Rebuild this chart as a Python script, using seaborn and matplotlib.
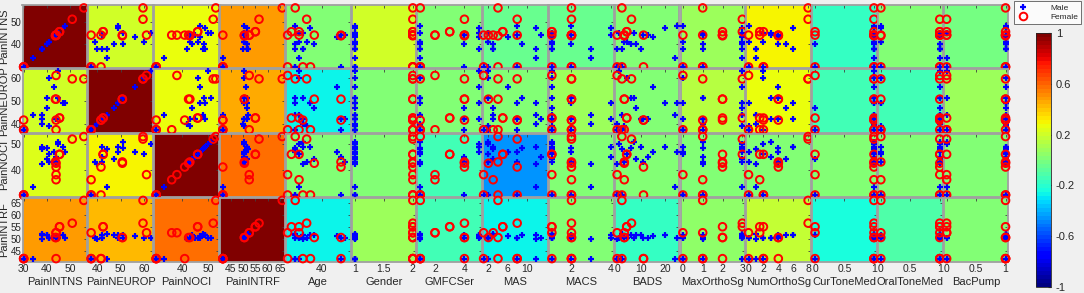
import numpy as np
import pandas as pd
import matplotlib
matplotlib.use("Agg")
import matplotlib.pyplot as plt
import seaborn as sns
from matplotlib.lines import Line2D
from matplotlib.colors import Normalize
from matplotlib.cm import ScalarMappable

sns.set_style("white")
plt.rcParams['font.family'] = ['Liberation Sans', 'DejaVu Sans']

# ---------------- data ----------------
row_vars = ["PainINTNS", "PainNEUROP", "PainNOCI", "PainINTRF"]
col_vars = ["PainINTNS", "PainNEUROP", "PainNOCI", "PainINTRF", "Age", "Gender",
            "GMFCSer", "MAS", "MACS", "BADS", "MaxOrthoSg", "NumOrthoSg",
            "CurToneMed", "OralToneMed", "BacPump"]

# male subjects
male_PainINTNS = [30, 30, 34, 38, 40, 41, 44, 45, 48, 40, 38, 43, 41, 30, 44, 47, 38, 45]
male_PainNEUROP = [37.4, 37.4, 44, 42, 51, 39, 42, 63, 49, 47, 40, 56, 60, 37.4, 42, 49, 44, 51]
male_PainNOCI = [30, 30, 33, 49, 48.5, 43, 45, 50, 47, 44, 42, 47, 46, 30, 43, 49, 48, 51]
male_PainINTRF = [41.7, 41.7, 41.7, 51.5, 51.5, 50.5, 50.5, 50.5, 50.5, 51.5, 50, 51, 50.5, 41.7, 50.5, 51.5, 52, 50.5]
male_Age = [33, 45, 34, 35, 33, 36, 45, 34, 33, 38, 35, 44, 34, 33, 46, 37, 33, 35]
male_Gender = [1] * 18
male_GMFCSer = [1, 4, 1, 5, 1, 1, 4, 5, 1, 4, 1, 5, 1, 1, 4, 5, 1, 1]
male_MAS = [2, 8, 12, 3, 9, 2, 13, 2, 8, 3, 12, 6, 2, 1, 8, 12, 3, 2]
male_MACS = [1, 2, 3, 1, 2, 1, 4, 1, 2, 1, 3, 1, 1, 1, 2, 4, 1, 1]
male_BADS = [0, 2, 24, 10, 6, 3, 13, 1, 25, 8, 0, 15, 4, 0, 11, 20, 2, 7]
male_MaxOrthoSg = [0, 1, 3, 0, 1, 3, 1, 3, 0, 3, 1, 3, 0, 0, 1, 3, 3, 1]
male_NumOrthoSg = [0, 2, 1, 6, 4, 0, 3, 2, 0, 5, 1, 4, 2, 0, 4, 6, 1, 3]
male_CurToneMed = [1, 1, 1, 1, 1, 1, 1, 1, 1, 0, 1, 1, 1, 0, 1, 1, 1, 1]
male_OralToneMed = [1, 0, 1, 1, 1, 0, 1, 1, 0, 1, 1, 1, 0, 1, 1, 0, 1, 1]
male_BacPump = [1, 1, 0, 1, 1, 1, 1, 0, 1, 1, 1, 1, 1, 0, 1, 1, 1, 0]

# female subjects
female_PainINTNS = [30, 30, 44, 44, 45.5, 51, 56, 44, 44, 30, 43.7, 45.5]
female_PainNEUROP = [37.4, 37.4, 41.6, 37.4, 42.5, 59.5, 59.5, 50.7, 61, 41.6, 50.7, 42.5]
female_PainNOCI = [30, 30, 41, 36, 46, 52, 53, 42.5, 38, 30, 43, 46]
female_PainINTRF = [41.7, 41.7, 41.7, 52.5, 55, 56.5, 66, 50.5, 52.5, 41.7, 50.5, 55]
female_Age = [31, 37, 45, 34, 32, 36, 33, 38, 31, 35, 45, 34]
female_Gender = [2] * 12
female_GMFCSer = [1, 1, 4, 2, 3, 4, 1, 4, 2, 1, 4, 3]
female_MAS = [1, 4, 8, 3, 5, 8, 4, 2, 1, 8, 4, 5]
female_MACS = [1, 2, 2, 2, 1, 2, 2, 2, 1, 2, 2, 1]
female_BADS = [0, 2, 11, 3, 4, 6, 2, 3, 0, 11, 3, 4]
female_MaxOrthoSg = [0, 1, 2, 1, 2, 3, 1, 2, 0, 1, 2, 3]
female_NumOrthoSg = [0, 2, 4, 1.5, 2, 8, 8, 4, 0, 2, 4, 1.5]
female_CurToneMed = [1, 0, 1, 1, 0, 1, 1, 1, 0, 1, 1, 1]
female_OralToneMed = [0, 1, 1, 0, 1, 1, 0, 1, 1, 1, 0, 1]
female_BacPump = [0, 1, 1, 0, 1, 0, 1, 1, 0, 1, 1, 0]

# correlation coefficients (panel background colours), rows x cols
corr_PainINTNS = [1.00, 0.20, 0.26, 0.48, 0.00, 0.20, 0.00, -0.06, -0.04, 0.00, 0.09, 0.30, -0.18, 0.00, -0.03]
corr_PainNEUROP = [0.20, 1.00, 0.28, 0.45, -0.28, 0.00, 0.00, 0.00, 0.09, 0.03, 0.13, 0.26, -0.14, -0.14, 0.09]
corr_PainNOCI = [0.23, 0.30, 1.00, 0.58, 0.00, 0.00, -0.14, -0.44, 0.00, 0.00, 0.00, 0.00, 0.00, 0.00, 0.00]
corr_PainINTRF = [0.48, 0.42, 0.58, 1.00, -0.28, 0.09, -0.14, -0.28, 0.00, -0.17, 0.05, 0.18, -0.22, -0.10, 0.00]

# axis limits and tick labels
limits = {"PainINTNS": (29.5, 57.5), "PainNEUROP": (36.2, 63.8), "PainNOCI": (29.2, 54.2),
          "PainINTRF": (40.5, 67.0), "Age": (30.5, 47.5), "Gender": (0.94, 2.06),
          "GMFCSer": (0.8, 5.2), "MAS": (0.9, 14.4), "MACS": (0.85, 4.15), "BADS": (-1.0, 26.0),
          "MaxOrthoSg": (-0.12, 3.15), "NumOrthoSg": (-0.3, 8.4), "CurToneMed": (-0.05, 1.05),
          "OralToneMed": (-0.05, 1.05), "BacPump": (-0.05, 1.05)}
ticks = {"PainINTNS": [30, 40, 50], "PainNEUROP": [40, 50, 60], "PainNOCI": [40, 50],
         "PainINTRF": [45, 50, 55, 60, 65], "Age": [40], "Gender": [1, 1.5, 2],
         "GMFCSer": [2, 4], "MAS": [2, 6, 10], "MACS": [2, 4], "BADS": [0, 10, 20],
         "MaxOrthoSg": [0, 1, 2, 3], "NumOrthoSg": [0, 2, 4, 6, 8], "CurToneMed": [0, 0.5, 1],
         "OralToneMed": [0, 0.5, 1], "BacPump": [0, 0.5, 1]}
yticks = {"PainINTNS": [40, 50], "PainNEUROP": [40, 50, 60], "PainNOCI": [40, 50],
          "PainINTRF": [45, 50, 55, 60, 65]}
cbar_ticks = [1, 0.6, 0.2, -0.2, -0.6, -1]

# ---------------- build tables ----------------
g = globals()
male = pd.DataFrame({v: g["male_" + v] for v in col_vars})
female = pd.DataFrame({v: g["female_" + v] for v in col_vars})
corr = np.array([corr_PainINTNS, corr_PainNEUROP, corr_PainNOCI, corr_PainINTRF])

cmap = plt.get_cmap("jet", 64)
norm = Normalize(-1, 1)

W, H = 1084, 293
fig = plt.figure(figsize=(W / 100, H / 100), dpi=100, facecolor="#f0f0f0")

x0, x1, y0, y1 = 22, 1009, 4, 262
pw = (x1 - x0) / len(col_vars)
ph = (y1 - y0) / len(row_vars)
gap = 1.0

for i, rv in enumerate(row_vars):
    for j, cv in enumerate(col_vars):
        left = (x0 + j * pw + gap / 2) / W
        bottom = 1 - (y0 + (i + 1) * ph - gap / 2) / H
        ax = fig.add_axes([left, bottom, (pw - gap) / W, (ph - gap) / H])
        ax.set_facecolor(cmap(norm(corr[i, j])))
        sns.scatterplot(data=male, x=cv, y=rv, ax=ax, marker="+", color="#0000ff",
                        s=22, linewidth=1.6, clip_on=False, zorder=3, legend=False)
        sns.scatterplot(data=female, x=cv, y=rv, ax=ax, marker="o", color="#ff0000",
                        facecolors="none", edgecolor="#ff0000", s=30, linewidth=1.4,
                        clip_on=False, zorder=4, legend=False)
        ax.set_xlim(limits[cv])
        ax.set_ylim(limits[rv])
        ax.set_xticks(ticks[cv])
        ax.set_yticks(yticks[rv])
        ax.tick_params(direction="in", length=2, width=0.6, color="#404040",
                       top=True, right=True, labelsize=7.5, pad=2, labelcolor="#262626")
        for s in ax.spines.values():
            s.set_color("#a0a0a0")
            s.set_linewidth(1.3)
        if i == len(row_vars) - 1:
            ax.set_xlabel(cv, fontsize=8, labelpad=2, color="#262626")
            ax.set_xticklabels([("%g" % t) for t in ticks[cv]])
        else:
            ax.set_xlabel("")
            ax.set_xticklabels([])
        if j == 0:
            ax.set_ylabel(rv, fontsize=8, color="#262626")
            ax.yaxis.set_label_coords(-13.5 / (pw - gap), 0.5)
            ax.set_yticklabels([("%g" % t) for t in yticks[rv]])
            ax.tick_params(axis="y", labelsize=7, pad=1)
        else:
            ax.set_ylabel("")
            ax.set_yticklabels([])

# colorbar
cax = fig.add_axes([1036 / W, 1 - 287 / H, 15 / W, (287 - 33) / H])
sm = ScalarMappable(norm=norm, cmap=cmap)
cb = fig.colorbar(sm, cax=cax, ticks=cbar_ticks)
cb.ax.set_yticklabels([("%g" % t) for t in cbar_ticks])
cb.ax.tick_params(labelsize=8, length=2, direction="in", colors="#262626")
cb.outline.set_linewidth(0.6)

# legend
handles = [Line2D([], [], marker="+", color="#0000ff", linestyle="none", markersize=5, markeredgewidth=1.6),
           Line2D([], [], marker="o", color="#ff0000", markerfacecolor="none", linestyle="none",
                  markersize=5.5, markeredgewidth=1.4)]
leg = fig.legend(handles, ["Male", "Female"], loc="upper left",
                 bbox_to_anchor=(1014 / W, 1 - 1 / H), fontsize=6, frameon=True,
                 fancybox=False, borderpad=0.35, handletextpad=2.6, labelspacing=0.2,
                 handlelength=1.4, borderaxespad=0)
leg.get_frame().set_edgecolor("#333333")
leg.get_frame().set_linewidth(0.6)

fig.savefig("out.png", dpi=100, facecolor=fig.get_facecolor())
